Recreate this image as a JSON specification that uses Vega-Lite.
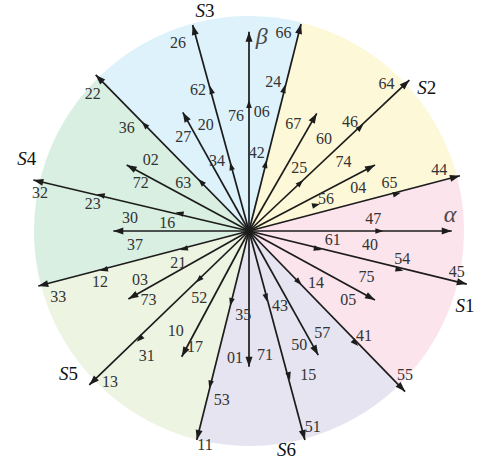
{
  "$schema": "https://vega.github.io/schema/vega-lite/v6.json",
  "width": 488,
  "height": 461,
  "autosize": {"type": "none"},
  "padding": 0,
  "config": {"view": {"stroke": null}},
  "datasets": {
    "sectors": [
      {"sector": "S1", "from": 75.3, "to": 135.9, "r": 1},
      {"sector": "S2", "from": 14.1, "to": 75.3, "r": 1},
      {"sector": "S3", "from": 315.5, "to": 374.1, "r": 1},
      {"sector": "S4", "from": 255.4, "to": 315.5, "r": 1},
      {"sector": "S5", "from": 194.0, "to": 255.4, "r": 1},
      {"sector": "S6", "from": 135.9, "to": 194.0, "r": 1}
    ],
    "heads": [
      {"x": 0.981, "y": 0.257, "bearing": 75.3, "kind": "tip"},
      {"x": 0.706, "y": 0.178, "bearing": 75.3, "kind": "mid"},
      {"x": 0.330, "y": 0.126, "bearing": 75.3, "kind": "mid"},
      {"x": 0.586, "y": 0.307, "bearing": 62.4, "kind": "tip"},
      {"x": 0.746, "y": 0.702, "bearing": 46.7, "kind": "tip"},
      {"x": 0.532, "y": 0.496, "bearing": 46.7, "kind": "mid"},
      {"x": 0.253, "y": 0.237, "bearing": 46.7, "kind": "mid"},
      {"x": 0.315, "y": 0.547, "bearing": 29.9, "kind": "tip"},
      {"x": 0.242, "y": 0.963, "bearing": 14.1, "kind": "tip"},
      {"x": 0.167, "y": 0.679, "bearing": 14.1, "kind": "mid"},
      {"x": 0.082, "y": 0.330, "bearing": 14.1, "kind": "mid"},
      {"x": 0.0, "y": 0.927, "bearing": 0, "kind": "tip"},
      {"x": 0.0, "y": 0.609, "bearing": 0, "kind": "mid"},
      {"x": -0.262, "y": 0.958, "bearing": -15.3, "kind": "tip"},
      {"x": -0.181, "y": 0.674, "bearing": -15.3, "kind": "mid"},
      {"x": -0.088, "y": 0.320, "bearing": -15.3, "kind": "mid"},
      {"x": -0.308, "y": 0.552, "bearing": -29.2, "kind": "tip"},
      {"x": -0.713, "y": 0.726, "bearing": -44.5, "kind": "tip"},
      {"x": -0.499, "y": 0.508, "bearing": -44.5, "kind": "mid"},
      {"x": -0.236, "y": 0.242, "bearing": -44.5, "kind": "mid"},
      {"x": -0.569, "y": 0.307, "bearing": -61.6, "kind": "tip"},
      {"x": -1.003, "y": 0.237, "bearing": -76.7, "kind": "tip"},
      {"x": -0.708, "y": 0.171, "bearing": -76.7, "kind": "mid"},
      {"x": -0.341, "y": 0.087, "bearing": -76.7, "kind": "mid"},
      {"x": -0.631, "y": 0.0, "bearing": -90, "kind": "tip"},
      {"x": -0.980, "y": -0.256, "bearing": -104.6, "kind": "tip"},
      {"x": -0.693, "y": -0.185, "bearing": -104.6, "kind": "mid"},
      {"x": -0.321, "y": -0.088, "bearing": -104.6, "kind": "mid"},
      {"x": -0.561, "y": -0.316, "bearing": -119.4, "kind": "tip"},
      {"x": -0.743, "y": -0.716, "bearing": -133.9, "kind": "tip"},
      {"x": -0.522, "y": -0.515, "bearing": -133.9, "kind": "mid"},
      {"x": -0.247, "y": -0.240, "bearing": -133.9, "kind": "mid"},
      {"x": -0.313, "y": -0.585, "bearing": -151.8, "kind": "tip"},
      {"x": -0.243, "y": -0.972, "bearing": -166.0, "kind": "tip"},
      {"x": -0.185, "y": -0.732, "bearing": -166.0, "kind": "mid"},
      {"x": -0.088, "y": -0.349, "bearing": -166.0, "kind": "mid"},
      {"x": 0.0, "y": -0.631, "bearing": 180, "kind": "tip"},
      {"x": 0.260, "y": -0.972, "bearing": 165.0, "kind": "tip"},
      {"x": 0.191, "y": -0.693, "bearing": 165.0, "kind": "mid"},
      {"x": 0.085, "y": -0.329, "bearing": 165.0, "kind": "mid"},
      {"x": 0.322, "y": -0.577, "bearing": 150.8, "kind": "tip"},
      {"x": 0.726, "y": -0.747, "bearing": 135.9, "kind": "tip"},
      {"x": 0.508, "y": -0.535, "bearing": 135.9, "kind": "mid"},
      {"x": 0.245, "y": -0.251, "bearing": 135.9, "kind": "mid"},
      {"x": 0.586, "y": -0.321, "bearing": 118.7, "kind": "tip"},
      {"x": 1.013, "y": -0.247, "bearing": 103.7, "kind": "tip"},
      {"x": 0.718, "y": -0.185, "bearing": 103.7, "kind": "mid"},
      {"x": 0.338, "y": -0.088, "bearing": 103.7, "kind": "mid"},
      {"x": 0.943, "y": 0.0, "bearing": 90, "kind": "tip"},
      {"x": 0.625, "y": 0.0, "bearing": 90, "kind": "mid"}
    ],
    "labels": [
      {"t": "44", "x": 0.885, "y": 0.284},
      {"t": "65", "x": 0.653, "y": 0.225},
      {"t": "56", "x": 0.358, "y": 0.149},
      {"t": "04", "x": 0.508, "y": 0.201},
      {"t": "74", "x": 0.439, "y": 0.322},
      {"t": "64", "x": 0.640, "y": 0.682},
      {"t": "46", "x": 0.470, "y": 0.508},
      {"t": "25", "x": 0.234, "y": 0.292},
      {"t": "67", "x": 0.206, "y": 0.498},
      {"t": "60", "x": 0.349, "y": 0.427},
      {"t": "66", "x": 0.160, "y": 0.922},
      {"t": "24", "x": 0.113, "y": 0.694},
      {"t": "42", "x": 0.036, "y": 0.361},
      {"t": "06", "x": 0.059, "y": 0.552},
      {"t": "76", "x": -0.060, "y": 0.535},
      {"t": "26", "x": -0.330, "y": 0.874},
      {"t": "62", "x": -0.237, "y": 0.656},
      {"t": "34", "x": -0.149, "y": 0.326},
      {"t": "27", "x": -0.306, "y": 0.439},
      {"t": "20", "x": -0.201, "y": 0.493},
      {"t": "22", "x": -0.727, "y": 0.637},
      {"t": "36", "x": -0.569, "y": 0.480},
      {"t": "63", "x": -0.306, "y": 0.225},
      {"t": "02", "x": -0.457, "y": 0.330},
      {"t": "72", "x": -0.504, "y": 0.222},
      {"t": "32", "x": -0.972, "y": 0.175},
      {"t": "23", "x": -0.727, "y": 0.126},
      {"t": "16", "x": -0.380, "y": 0.039},
      {"t": "30", "x": -0.553, "y": 0.059},
      {"t": "37", "x": -0.530, "y": -0.065},
      {"t": "33", "x": -0.887, "y": -0.308},
      {"t": "12", "x": -0.693, "y": -0.236},
      {"t": "21", "x": -0.329, "y": -0.147},
      {"t": "03", "x": -0.507, "y": -0.228},
      {"t": "73", "x": -0.468, "y": -0.321},
      {"t": "13", "x": -0.647, "y": -0.704},
      {"t": "31", "x": -0.476, "y": -0.581},
      {"t": "52", "x": -0.231, "y": -0.313},
      {"t": "10", "x": -0.341, "y": -0.465},
      {"t": "17", "x": -0.251, "y": -0.538},
      {"t": "11", "x": -0.205, "y": -0.995},
      {"t": "53", "x": -0.127, "y": -0.786},
      {"t": "35", "x": -0.027, "y": -0.391},
      {"t": "01", "x": -0.065, "y": -0.589},
      {"t": "71", "x": 0.074, "y": -0.577},
      {"t": "51", "x": 0.296, "y": -0.910},
      {"t": "15", "x": 0.276, "y": -0.670},
      {"t": "43", "x": 0.144, "y": -0.349},
      {"t": "50", "x": 0.234, "y": -0.530},
      {"t": "57", "x": 0.341, "y": -0.473},
      {"t": "55", "x": 0.726, "y": -0.670},
      {"t": "41", "x": 0.535, "y": -0.488},
      {"t": "14", "x": 0.312, "y": -0.240},
      {"t": "05", "x": 0.462, "y": -0.321},
      {"t": "75", "x": 0.547, "y": -0.213},
      {"t": "45", "x": 0.966, "y": -0.189},
      {"t": "54", "x": 0.713, "y": -0.132},
      {"t": "61", "x": 0.389, "y": -0.042},
      {"t": "47", "x": 0.578, "y": 0.057},
      {"t": "40", "x": 0.563, "y": -0.065}
    ],
    "phases": [
      {"n": "1", "x": 1.005, "y": -0.349},
      {"n": "2", "x": 0.827, "y": 0.664},
      {"n": "3", "x": -0.205, "y": 1.023},
      {"n": "4", "x": -1.034, "y": 0.333},
      {"n": "5", "x": -0.840, "y": -0.665},
      {"n": "6", "x": 0.175, "y": -1.019}
    ],
    "axes": [
      {"t": "α", "x": 0.935, "y": 0.074},
      {"t": "β", "x": 0.059, "y": 0.904}
    ]
  },
  "layer": [
    {
      "data": {"name": "sectors"},
      "mark": {"type": "arc", "stroke": null},
      "encoding": {
        "x": {
          "datum": 0,
          "type": "quantitative",
          "scale": {"domain": [-1.15814, 1.11163], "nice": false, "zero": false},
          "axis": null
        },
        "y": {
          "datum": 0,
          "type": "quantitative",
          "scale": {"domain": [-1.06977, 1.07442], "nice": false, "zero": false},
          "axis": null
        },
        "theta": {
          "field": "from",
          "type": "quantitative",
          "stack": null,
          "scale": {"domain": [0, 360], "range": [0, 6.283185]}
        },
        "theta2": {"field": "to"},
        "radius": {
          "field": "r",
          "type": "quantitative",
          "scale": {"type": "linear", "domain": [0, 1], "range": [0, 215], "zero": true}
        },
        "color": {
          "field": "sector",
          "type": "nominal",
          "legend": null,
          "scale": {
            "domain": ["S1", "S2", "S3", "S4", "S5", "S6"],
            "range": ["#fbe4ec", "#fdf8d7", "#ddf2fa", "#d8efe2", "#eef4e2", "#e5e4f0"]
          }
        }
      }
    },
    {
      "encoding": {
        "x": {
          "field": "x",
          "type": "quantitative",
          "scale": {"domain": [-1.15814, 1.11163], "nice": false, "zero": false},
          "axis": null
        },
        "y": {
          "field": "y",
          "type": "quantitative",
          "scale": {"domain": [-1.06977, 1.07442], "nice": false, "zero": false},
          "axis": null
        }
      },
      "layer": [
        {
          "data": {"name": "heads"},
          "transform": [{"filter": "datum.kind == 'tip'"}],
          "mark": {"type": "rule", "color": "#1c1c1c", "strokeWidth": 1.7},
          "encoding": {
            "x2": {"datum": 0},
            "y2": {"datum": 0}
          }
        },
        {
          "data": {"name": "heads"},
          "mark": {
            "type": "point",
            "shape": "M0,0L0.35,1L-0.35,1Z",
            "filled": true,
            "opacity": 1,
            "color": "#1c1c1c"
          },
          "encoding": {
            "angle": {"field": "bearing", "type": "quantitative", "scale": null},
            "size": {"condition": {"test": "datum.kind == 'tip'", "value": 400}, "value": 256}
          }
        },
        {
          "data": {"name": "labels"},
          "mark": {
            "type": "text",
            "font": "Liberation Serif",
            "fontSize": 16,
            "color": "#333333",
            "align": "center",
            "baseline": "middle"
          },
          "encoding": {"text": {"field": "t"}}
        },
        {
          "data": {"name": "phases"},
          "mark": {
            "type": "text",
            "font": "Liberation Serif",
            "fontSize": 19,
            "fontStyle": "italic",
            "color": "#111111",
            "align": "right",
            "baseline": "middle"
          },
          "encoding": {"text": {"value": "S"}}
        },
        {
          "data": {"name": "phases"},
          "mark": {
            "type": "text",
            "font": "Liberation Serif",
            "fontSize": 19,
            "color": "#111111",
            "align": "left",
            "baseline": "middle"
          },
          "encoding": {"text": {"field": "n"}}
        },
        {
          "data": {"name": "axes"},
          "mark": {
            "type": "text",
            "font": "Liberation Serif",
            "fontSize": 24,
            "fontStyle": "italic",
            "color": "#4a4a4a",
            "align": "center",
            "baseline": "middle"
          },
          "encoding": {"text": {"field": "t"}}
        }
      ]
    }
  ]
}
